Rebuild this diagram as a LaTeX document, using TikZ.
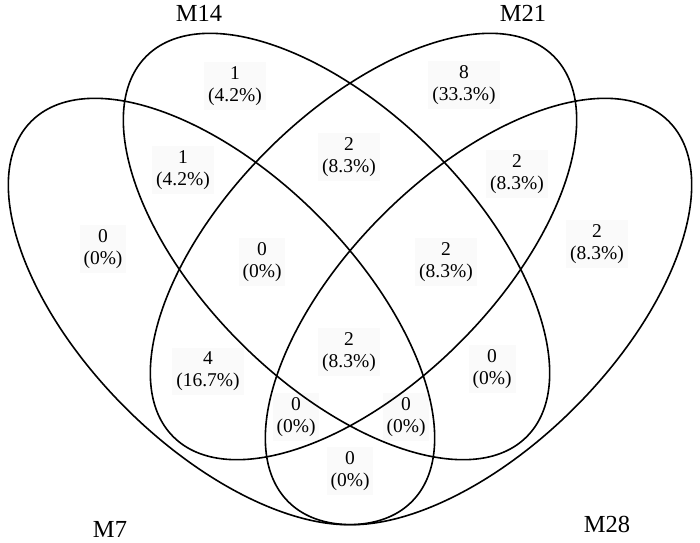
\documentclass[tikz,border=0pt]{standalone}
\usepackage{fontspec}
\setmainfont{Liberation Serif}

\begin{document}
\begin{tikzpicture}
  [
  x=1pt, y=-1pt,
  setring/.style={draw, line width=1.6pt},
  cntnode/.style={fill=black!2, align=center, inner sep=4pt, font=\fontsize{19.5}{22}\selectfont},
  setname/.style={anchor=base, inner sep=0pt, font=\fontsize{24.5}{28}\selectfont}
  ]
  \useasboundingbox (0,0) rectangle (700,542);
  \node[cntnode] (r7) at (103,249) {0\\(0\%)};
  \node[cntnode] (r14) at (235,86) {1\\(4.2\%)};
  \node[cntnode] (r21) at (464,85) {8\\(33.3\%)};
  \node[cntnode] (r28) at (597,244) {2\\(8.3\%)};
  \node[cntnode] (r7x14) at (183,170) {1\\(4.2\%)};
  \node[cntnode] (r14x21) at (349,157) {2\\(8.3\%)};
  \node[cntnode] (r21x28) at (517,174) {2\\(8.3\%)};
  \node[cntnode] (r7x14x21) at (262,262) {0\\(0\%)};
  \node[cntnode] (r14x21x28) at (446,262) {2\\(8.3\%)};
  \node[cntnode] (r7x21) at (208,371) {4\\(16.7\%)};
  \node[cntnode] (rall) at (349,352) {2\\(8.3\%)};
  \node[cntnode] (r14x28) at (492,369) {0\\(0\%)};
  \node[cntnode] (r7x21x28) at (296,417) {0\\(0\%)};
  \node[cntnode] (r7x14x28) at (406,417) {0\\(0\%)};
  \node[cntnode] (r7x28) at (350,471) {0\\(0\%)};
  % the four sets
  \draw[setring, rotate around={-45:(221.5,311.5)}] (221.5,311.5) ellipse [x radius=269, y radius=136];
  \draw[setring, rotate around={-45:(336.5,246.5)}] (336.5,246.5) ellipse [x radius=269, y radius=136];
  \draw[setring, rotate around={45:(363.5,246.5)}] (363.5,246.5) ellipse [x radius=269, y radius=136];
  \draw[setring, rotate around={45:(478.5,311.5)}] (478.5,311.5) ellipse [x radius=269, y radius=136];
  \node[setname] (m14) at (199,21) {M14};
  \node[setname] (m21) at (523,21) {M21};
  \node[setname] (m7) at (110,537) {M7};
  \node[setname] (m28) at (607,532) {M28};
\end{tikzpicture}
\end{document}
